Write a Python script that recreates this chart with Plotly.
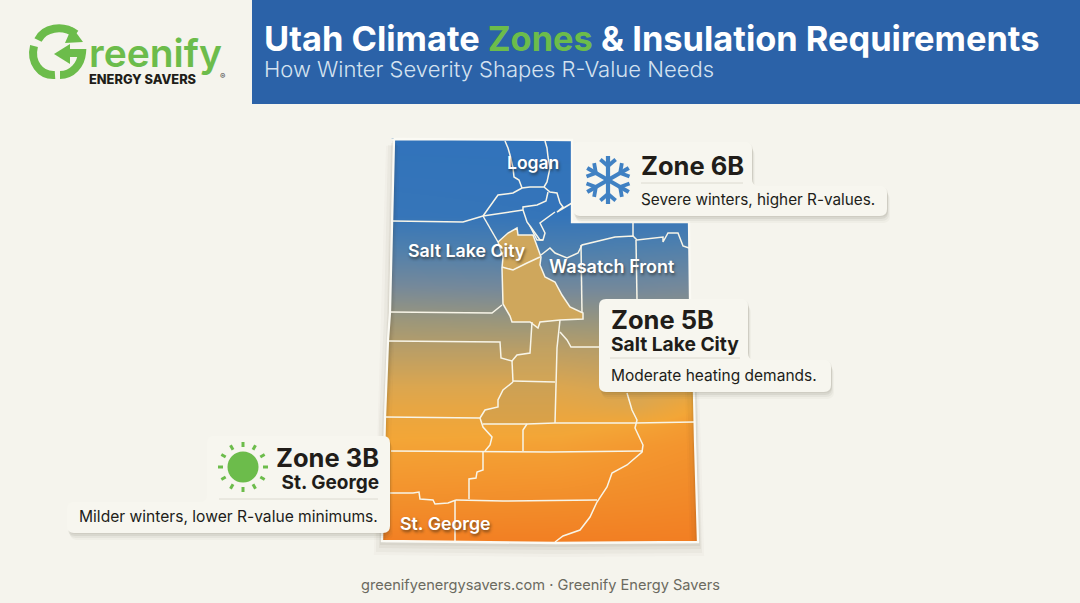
import math
import plotly.graph_objects as go

BG = "#f5f4ed"
CARD = "#f7f6ef"
INK = "#211d19"
GREEN = "#6cbc4b"
FONT = "Inter"

# ---- map geometry
outline = [(394,139),(572,140),(572,222),(689,222),(690,298),(694,393),(695,440),(698,542),
           (555,543),(382,541),(385,417),(388,340),(390,312),(392,221),(394,139)]
tan_region = [(498,242),(508,233),(517,228),(518,235),(533,235),(538,248),(541,257),(540,265),(545,277),
              (555,282),(562,295),(570,307),(583,313),(583,319),(560,320),(540,322),(538,328),(530,322),
              (512,322),(510,316),(503,304),(502,268),(503,257),(498,242)]
sanpete_region = [(532,322),(560,320),(557,348),(555,382),(513,381),(512,361),(517,355),(530,353)]
sevier_region = [(513,382),(555,382),(555,423),(527,424),(510,424),(483,424),(480,418),(485,410),(498,407),(498,400),(503,390)]
county_lines = [
    [(505,141),(508,148),(510,155),(513,168),(514,177),(519,180),(522,188)],
    [(545,141),(547,148),(548,157),(550,168),(547,182),(544,187)],
    [(483,216),(498,195),(513,193),(522,188),(530,187),(544,187),(550,192),(557,193),(560,203),(563,207),(557,212),(572,203)],
    [(548,192),(546,201),(537,205),(523,207),(523,210),(527,222),(530,226),(540,240),(543,240)],
    [(555,212),(540,223),(545,233),(543,240),(537,240),(530,226)],
    [(483,216),(523,210)],
    [(392,221),(463,222),(483,216)],
    [(483,216),(498,242)],
    [(502,267),(513,270),(527,263),(540,257)],
    [(541,255),(550,248),(555,253),(567,258),(578,253),(582,245),(615,237),(633,236),(637,240),(663,237),(663,242),(668,233),(678,233),(683,246),(689,248)],
    [(633,222),(633,236)],
    [(581,245),(582,313)],
    [(636,240),(637,300)],
    [(389,312),(492,313),(502,305)],
    [(388,341),(500,342),(501,358),(512,361),(517,355),(530,353),(532,322)],
    [(560,320),(557,348),(555,423)],
    [(560,332),(567,340),(571,347),(600,347)],
    [(512,361),(513,382)],
    [(513,381),(555,382)],
    [(513,382),(503,390),(498,400),(498,407),(485,410),(480,418)],
    [(386,417),(480,418)],
    [(480,418),(483,427),(492,437),(490,445),(485,451)],
    [(483,424),(510,424),(527,424),(555,423),(635,423),(694,422)],
    [(527,424),(523,430),(523,451)],
    [(391,451),(483,452),(550,452),(643,451)],
    [(627,393),(632,410),(637,420),(635,428),(643,445),(642,452),(627,465),(612,473),(607,487),(597,502),(590,517),(580,530),(563,536),(555,542)],
    [(483,452),(483,470),(477,472),(476,478),(469,479),(469,499)],
    [(456,500),(503,501),(597,500)],
    [(385,493),(413,493),(419,492),(420,499),(433,500),(435,504),(448,503),(456,500)],
    [(455,500),(455,542)],
]

# ---- colour field over the map (0 = winter blue, 1 = desert orange)
field_x = [378, 560, 640, 702]
field_y = [136, 215, 245, 285, 320, 350, 385, 405, 425, 445, 500, 546]
field_z = [
    [0.00, 0.00, 0.00, 0.00],
    [0.03, 0.02, 0.02, 0.04],
    [0.16, 0.14, 0.16, 0.18],
    [0.33, 0.31, 0.31, 0.33],
    [0.49, 0.47, 0.46, 0.46],
    [0.60, 0.60, 0.58, 0.58],
    [0.72, 0.72, 0.68, 0.72],
    [0.78, 0.78, 0.74, 0.86],
    [0.83, 0.83, 0.86, 0.90],
    [0.86, 0.87, 0.90, 0.92],
    [0.93, 0.94, 0.95, 0.96],
    [1.00, 1.00, 1.00, 1.00],
]
field_colors = [[0, "#3173bb"], [0.16, "#4d7fae"], [0.33, "#76899a"], [0.5, "#a09878"],
                [0.72, "#dba650"], [0.85, "#f3a637"], [1, "#f27d22"]]

xs = lambda p: [a for a, _ in p]
ys = lambda p: [b for _, b in p]

fig = go.Figure()
fig.add_trace(go.Heatmap(x=field_x, y=field_y, z=field_z, colorscale=field_colors, zmin=0, zmax=1,
                         zsmooth="best", showscale=False, hoverinfo="skip"))
# everything outside the state is painted back to the page colour (outline reversed = hole)
mask = [(0,0),(1080,0),(1080,603),(0,603),(0,0)] + outline[::-1] + [(0,0)]
fig.add_trace(go.Scatter(x=xs(mask), y=ys(mask), mode="lines", fill="toself", fillcolor=BG,
                         line=dict(width=0, color=BG), hoverinfo="skip"))
# soft shadow below and left of the map
shadow_path = [(394,139),(390,312),(385,417),(382,541),(555,543),(698,542),(695,440),(694,393),(690,298)]
for off, w, a in [((-1,7),14,0.025),((-1,6),10,0.035),((0,4),6,0.05),((0,2),4,0.06)]:
    sp = [(p[0]+off[0], p[1]+off[1]) for p in shadow_path]
    fig.add_trace(go.Scatter(x=xs(sp), y=ys(sp), mode="lines", line=dict(width=w, color=f"rgba(70,60,40,{a})"),
                             hoverinfo="skip"))
fig.add_trace(go.Scatter(x=xs(tan_region), y=ys(tan_region), mode="lines", fill="toself",
                         fillcolor="#cfa75c", line=dict(width=0), hoverinfo="skip"))
fig.add_trace(go.Scatter(x=xs(sanpete_region), y=ys(sanpete_region), mode="lines", fill="toself",
                         fillcolor="rgba(207,167,92,0.45)", line=dict(width=0), hoverinfo="skip"))
fig.add_trace(go.Scatter(x=xs(sevier_region), y=ys(sevier_region), mode="lines", fill="toself",
                         fillcolor="rgba(170,150,100,0.28)", line=dict(width=0), hoverinfo="skip"))
for s in county_lines + [tan_region]:
    fig.add_trace(go.Scatter(x=xs(s), y=ys(s), mode="lines", line=dict(width=1.5, color="#f8f5e8"),
                             hoverinfo="skip"))
fig.add_trace(go.Scatter(x=xs(outline), y=ys(outline), mode="lines", line=dict(width=2.3, color="#fbfaf4"),
                         hoverinfo="skip"))

shapes = []

def rpoly(points, r=7):
    n = len(points)
    out = ""
    for i in range(n):
        p0, p1, p2 = points[i-1], points[i], points[(i+1) % n]
        d1 = math.hypot(p0[0]-p1[0], p0[1]-p1[1]); d2 = math.hypot(p2[0]-p1[0], p2[1]-p1[1])
        rr = min(r, d1/2, d2/2)
        a = (p1[0]+(p0[0]-p1[0])*rr/d1, p1[1]+(p0[1]-p1[1])*rr/d1)
        b = (p1[0]+(p2[0]-p1[0])*rr/d2, p1[1]+(p2[1]-p1[1])*rr/d2)
        out += ("M" if i == 0 else "L") + f"{a[0]:.1f},{a[1]:.1f} Q{p1[0]},{p1[1]} {b[0]:.1f},{b[1]:.1f} "
    return out + "Z"

def card(points):
    for dx, dy, a in [(3,7,0.03),(2,5,0.05),(1,3,0.07),(1,1,0.06)]:
        pts = [(x+dx, y+dy) for x, y in points]
        shapes.append(dict(type="path", path=rpoly(pts), fillcolor=f"rgba(60,50,35,{a})",
                           line=dict(width=0), layer="above"))
    shapes.append(dict(type="path", path=rpoly(points), fillcolor=CARD, line=dict(width=0), layer="above"))

def rule(x0, x1, y):
    shapes.append(dict(type="line", x0=x0, x1=x1, y0=y, y1=y, line=dict(color="#dcdad0", width=1), layer="above"))

def seg(x0, y0, x1, y1, color, width):
    shapes.append(dict(type="line", x0=x0, y0=y0, x1=x1, y1=y1, line=dict(color=color, width=width), layer="above"))

# header band
shapes.append(dict(type="rect", x0=252, x1=1080, y0=0, y1=104, fillcolor="#2b62a8", line=dict(width=0), layer="above"))

card([(573,142),(752,142),(752,186),(887,186),(887,216),(573,216)])
rule(641, 743, 183)
card([(599,299),(748,299),(748,360),(831,360),(831,392),(599,392)])
rule(610, 740, 358)
card([(207,436),(390,436),(390,533),(67,533),(67,502),(207,502)])
rule(219, 378, 499)

# snowflake icon
SNOW = "#4081c3"
cx, cy, R = 608, 180, 24
for k in range(6):
    t = math.radians(90 + 60*k)
    ux, uy = math.cos(t), math.sin(t)
    seg(cx, cy, cx+R*ux, cy+R*uy, SNOW, 4.2)
    for sgn in (-1, 1):
        b = t + sgn*math.radians(50)
        bx, by = cx+14*ux, cy+14*uy
        seg(bx, by, bx+10*math.cos(b), by+10*math.sin(b), SNOW, 3.8)

# sun icon
sx, sy = 243, 467
shapes.append(dict(type="circle", x0=sx-15.5, x1=sx+15.5, y0=sy-15.5, y1=sy+15.5, fillcolor=GREEN,
                   line=dict(width=0), layer="above"))
for k in range(12):
    t = math.radians(30*k)
    seg(sx+20*math.cos(t), sy+20*math.sin(t), sx+25*math.cos(t), sy+25*math.sin(t), GREEN, 3)

# logo mark
def stroke(path, w=8):
    shapes.append(dict(type="path", path=path, line=dict(color=GREEN, width=w), layer="above"))
stroke("M38,40 C44,28 62,24 76,34")
stroke("M34,46 C30,62 40,76 55,75")
stroke("M60,75 C72,75 81,65 82,53 L66,53")
shapes.append(dict(type="path", path="M72,27 L83,42 L65,43 Z", fillcolor=GREEN, line=dict(width=0), layer="above"))
shapes.append(dict(type="path", path="M54,54 L70,44 L70,64 Z", fillcolor=GREEN, line=dict(width=0), layer="above"))

def txt(text, x, y, size, color=INK, anchor="left", weight=400, shadow=None, font=FONT):
    f = dict(family=font, size=size, color=color, weight=weight)
    if shadow:
        f["shadow"] = shadow
    return dict(text=text, x=x, y=y, xref="x", yref="y", xanchor=anchor, yanchor="middle",
                showarrow=False, font=f, align=anchor, borderpad=0, borderwidth=0)

def sized(s, size):
    return f'<span style="font-size:{size}px">{s}</span>'

MAP_SHADOW = "1px 2px 3px rgba(30,25,15,0.6)"
annotations = [
    txt(f'Utah Climate <span style="color:{GREEN}">Zones</span> &amp; Insulation Requirements', 264, 38, 34.4, "#ffffff", weight=700),
    txt("How Winter Severity Shapes R-Value Needs", 264, 69, 22, "#d5e2f0", weight=300),
    txt(f'<span style="font-size:39px;font-weight:600;color:{GREEN}">reenify</span><br>'
        f'<span style="font-size:12.8px;font-weight:800;color:{INK}">ENERGY SAVERS</span>', 89, 58, 12.8, INK, weight=800),
    txt("®", 220, 76, 8, "#444444"),
    txt("Logan", 533, 162, 17.5, "#ffffff", "center", 600, MAP_SHADOW),
    txt("Salt Lake City", 467, 250, 17.8, "#ffffff", "center", 600, MAP_SHADOW),
    txt("Wasatch Front", 612, 266, 18, "#ffffff", "center", 600, MAP_SHADOW),
    txt("St. George", 445, 523, 17.8, "#ffffff", "center", 600, MAP_SHADOW),
    txt("Zone 6B", 641, 165, 25.5, INK, weight=700),
    txt("Severe winters, higher R-values.", 641, 199, 15.3, INK, weight=400),
    txt(sized("Zone 5B", 25.5) + "<br>" + sized("Salt Lake City", 19.2), 611, 330, 17, INK, weight=700),
    txt("Moderate heating demands.", 611, 375, 15.5, INK, weight=400),
    txt(sized("Zone 3B", 25.5) + "<br>" + sized("St. George", 19), 379, 468, 17, INK, "right", 700),
    txt("Milder winters, lower R-value minimums.", 378, 516, 15.6, INK, "right", 400),
    txt("greenifyenergysavers.com · Greenify Energy Savers", 540, 585, 14.6, "#6b6a60", "center"),
]

fig.update_layout(
    width=1080, height=603, margin=dict(l=0, r=0, t=0, b=0), showlegend=False,
    paper_bgcolor=BG, plot_bgcolor=BG, shapes=shapes, annotations=annotations,
    xaxis=dict(range=[0, 1080], visible=False, fixedrange=True),
    yaxis=dict(range=[603, 0], visible=False, fixedrange=True),
    hovermode=False,
)
fig.write_html("out.html", config={"displayModeBar": False},
               post_script="document.body.style.margin='0';document.body.style.background='%s';document.body.style.overflow='hidden';" % BG)
